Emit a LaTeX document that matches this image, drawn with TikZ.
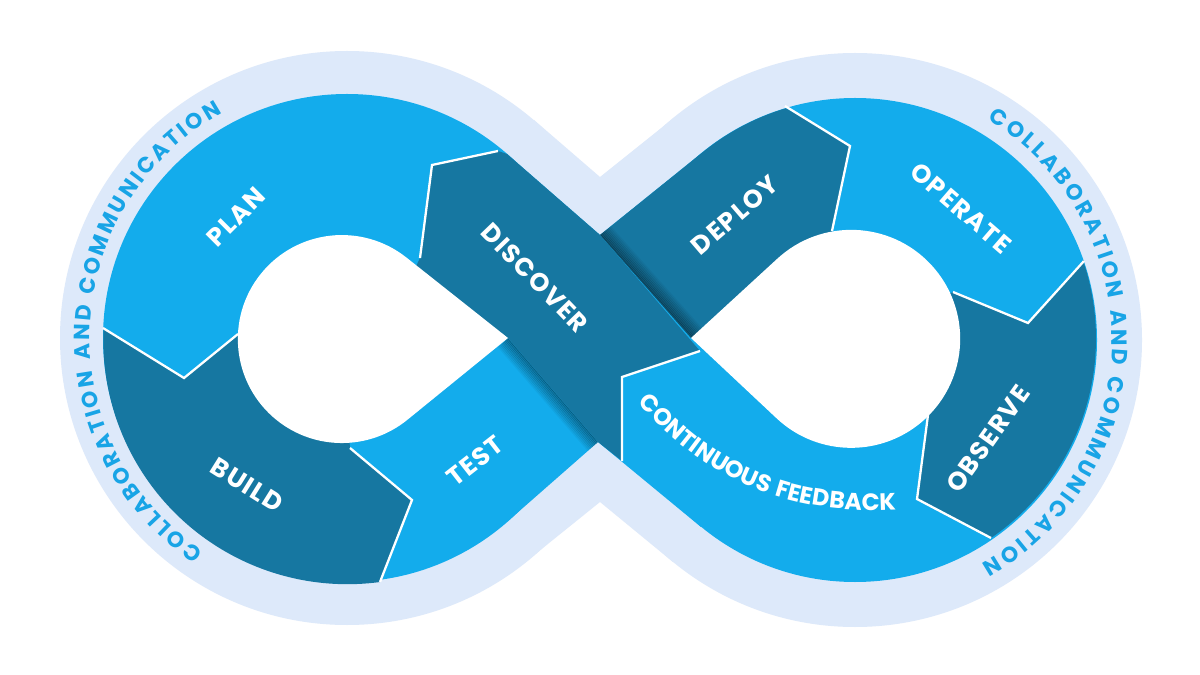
\documentclass[tikz,border=0pt]{standalone}
\usepackage{fontspec}
\setmainfont{Poppins}
\newfontfamily\lblfont[LetterSpace=6]{Poppins}
\newfontfamily\arcfontfam[LetterSpace=2]{Poppins}
\usetikzlibrary{decorations.text}
\definecolor{lightb}{HTML}{13ACEC}
\definecolor{darkb}{HTML}{1677A1}
\definecolor{halo}{HTML}{DDE9FA}
\definecolor{arct}{HTML}{18A4E6}
\newcommand\arcstyle{\arcfontfam\bfseries\fontsize{12.5}{13}\selectfont}
\newcommand\cfstyle{\lblfont\bfseries\fontsize{13.5}{14}\selectfont}
\newcommand\deploypath{(600,235) -- (703,152) arc[start angle=-129,end angle=-106.65,radius=242] -- (850,146) -- (832,231) -- (800,300) -- (691,338) -- cycle}
\begin{document}
\begin{tikzpicture}[x=0.02cm,y=-0.02cm,
  lbl/.style={text=white,font=\lblfont\bfseries\fontsize{14.5}{15}\selectfont,inner sep=0pt},
  sepline/.style={draw=white,line width=1.3pt,line join=miter}]
\useasboundingbox (0,0) rectangle (1200,675);
\fill[white] (0,0) rectangle (1200,675);
% halo
\fill[halo] (347,338) circle[radius=287];
\fill[halo] (855,340) circle[radius=287];
\fill[halo] (534,120) -- (600,177) -- (675,117) -- (855,340) -- (673,562) -- (600,502) -- (528,560) -- (347,338) -- cycle;
% ribbon base
\fill[lightb] (347,338) circle[radius=244];
\fill[lightb] (855,340) circle[radius=242];
\fill[lightb] (507,154) -- (600,235) -- (703,152) -- (855,340) -- (701,527) -- (598,442) -- (508,521) -- (347,338) -- cycle;
% build
\fill[darkb] (103,328) -- (184,378) -- (238,334) -- (342,339) -- (350,448) -- (412,500) -- (380,582) arc[start angle=82.3,end angle=182.3,radius=244] -- cycle;
% observe
\fill[darkb] (1084,261) -- (1028,323) -- (953,292) -- (851,339) -- (928,415) -- (917,499) -- (991,538) arc[start angle=55.5,end angle=-19,radius=242] -- cycle;
% deploy
\fill[darkb] \deploypath;
\begin{scope}
\clip \deploypath;
\foreach \i in {0,...,8}{
  \pgfmathsetmacro\op{0.30-0.032*\i}
  \draw[black,opacity=\op,line width=1.2pt,shift={(1.19*\i,-1.07*\i)}] (585,218) -- (705,352);
}
\end{scope}
\begin{scope}
\clip (508,338) -- (598,442) -- (508,521) -- (400,440) -- cycle;
\foreach \i in {0,...,8}{
  \pgfmathsetmacro\op{0.30-0.032*\i}
  \draw[black,opacity=\op,line width=1.2pt,shift={(-1.21*\i,1.05*\i)}] (495,323) -- (612,458);
}
\end{scope}
% discover
\fill[darkb] (498,151) -- (507,154) -- (600,235) -- (700,351) -- (622,377) -- (622,461) -- (598,442) -- (508,338) -- (400,300) -- (420,258) -- (432,165) -- cycle;
% holes
\fill[white] (508,338) -- (407,258) arc[start angle=-51.2,end angle=-308.8,radius=104] -- cycle;
\fill[white] (691,338) -- (777,259) arc[start angle=-132.9,end angle=132.9,radius=109] -- cycle;
% separators
\draw[sepline] (103,328) -- (184,378) -- (238,334);
\draw[sepline] (350,448) -- (412,500) -- (380,582);
\draw[sepline] (498,151) -- (432,165) -- (420,258);
\draw[sepline] (785,106) -- (850,146) -- (832,231);
\draw[sepline] (1084,261) -- (1028,323) -- (953,292);
\draw[sepline] (928,415) -- (917,499) -- (991,538);
\draw[sepline] (700,351) -- (622,377) -- (622,461);
% labels
\node[lbl,rotate=45] (plan) at (236,217) {PLAN};
\node[lbl,rotate=-32] (build) at (247,485) {BUILD};
\node[lbl,rotate=38] (test) at (475,461) {TEST};
\node[lbl,rotate=-46] (discover) at (535,278) {DISCOVER};
\node[lbl,rotate=40.6] (deploy) at (735,215) {DEPLOY};
\node[lbl,rotate=-40.8] (operate) at (961,208) {OPERATE};
\node[lbl,rotate=54.5] (observe) at (988,439) {OBSERVE};
\path[decorate,decoration={text along path,text color=white,text align=center,
  text={|\cfstyle|CONTINUOUS FEEDBACK}}]
  (624,386) .. controls (690,470) and (780,522) .. (918,508);
% collaboration arcs
\path[decorate,decoration={text along path,text color=arct,text align={fit to path},
  text={|\arcstyle|COLLABORATION AND COMMUNICATION}}]
  (347,338) ++(124:257) arc[start angle=124,end angle=241,radius=257];
\path[decorate,decoration={text along path,text color=arct,text align={fit to path},
  text={|\arcstyle|COLLABORATION AND COMMUNICATION}}]
  (855,340) ++(-59:257) arc[start angle=-59,end angle=60.5,radius=257];
\end{tikzpicture}
\end{document}
